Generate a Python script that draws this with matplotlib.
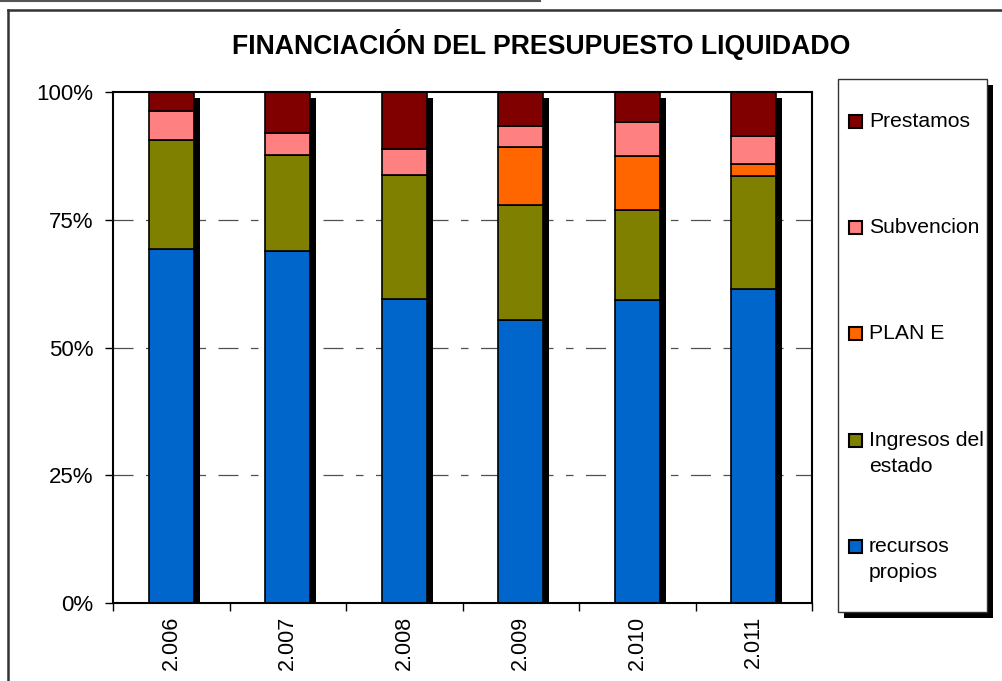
import numpy as np
import matplotlib.pyplot as plt
from matplotlib.patches import Rectangle
from matplotlib.lines import Line2D

plt.rcParams['font.family'] = ['Liberation Sans', 'DejaVu Sans']

# datos (porcentaje del presupuesto liquidado)
years = ['2.006', '2.007', '2.008', '2.009', '2.010', '2.011']
recursos = [69.2, 68.9, 59.5, 55.4, 59.2, 61.4]
ingresos = [21.5, 18.8, 24.3, 22.4, 17.7, 22.2]
plan_e = [0.0, 0.0, 0.0, 11.5, 10.6, 2.3]
subvencion = [5.6, 4.3, 5.0, 4.1, 6.6, 5.5]
prestamos = [3.7, 8.0, 11.2, 6.6, 5.9, 8.6]

series = [recursos, ingresos, plan_e, subvencion, prestamos]
labels = ['recursos\npropios', 'Ingresos del\nestado', 'PLAN E', 'Subvencion', 'Prestamos']
colors = ['#0066CC', '#808000', '#FF6600', '#FF8080', '#800000']

W, H = 1002, 681
fig = plt.figure(figsize=(W / 100, H / 100), dpi=100)


def fx(px):
    return px / W


def fy(py):
    return 1 - py / H


ax = fig.add_axes([fx(113), fy(603), fx(812) - fx(113), fy(92) - fy(603)])

x = np.arange(len(years)) + 0.5
width = 0.39

# sombras de las barras
ax.bar(x + 0.05, 100, width, bottom=-1.1, color='black', zorder=1)

# barras apiladas
bottom = np.zeros(len(years))
for vals, col in zip(series, colors):
    ax.bar(x, vals, width, bottom=bottom, color=col, edgecolor='black',
           linewidth=1.2, zorder=2)
    bottom = bottom + np.array(vals)

ax.set_xlim(0, len(years))
ax.set_ylim(0, 100)

# lineas de division
for yv in [25, 50, 75]:
    ax.axhline(yv, color='#505050', linewidth=0.9, linestyle=(0, (16, 10, 6, 10)), zorder=0.5)

ax.set_yticks([0, 25, 50, 75, 100])
ax.set_yticklabels(['0%', '25%', '50%', '75%', '100%'], fontsize=16)
ax.tick_params(axis='y', direction='out', length=6, width=1, pad=8)

ax.set_xticks(np.arange(len(years) + 1))
ax.set_xticklabels([])
ax.tick_params(axis='x', which='major', direction='out', length=6, width=1)
ax.set_xticks(x, minor=True)
ax.set_xticklabels(years, minor=True, rotation=90, fontsize=15.5)
ax.tick_params(axis='x', which='minor', length=0, pad=9)

for sp in ax.spines.values():
    sp.set_linewidth(1.5)
    sp.set_color('black')

# titulo
fig.text(fx(541), fy(44), 'FINANCIACIÓN DEL PRESUPUESTO LIQUIDADO',
         fontsize=19.2, fontweight='bold', ha='center', va='center')

# marco exterior
fig.add_artist(Line2D([fx(8), fx(8)], [fy(10), 0], color='#333333', linewidth=1.8))
fig.add_artist(Line2D([fx(8), 1], [fy(10), fy(10)], color='#333333', linewidth=1.8))
fig.add_artist(Line2D([0, fx(540)], [fy(1), fy(1)], color='#555555', linewidth=1.5))

# leyenda
lx0, lx1, ly0, ly1 = 838, 987, 79, 612
fig.add_artist(Rectangle((fx(lx0 + 6), fy(ly1 + 6)), fx(lx1 - lx0), fy(ly0) - fy(ly1),
                         facecolor='black', edgecolor='none'))
fig.add_artist(Rectangle((fx(lx0), fy(ly1)), fx(lx1 - lx0), fy(ly0) - fy(ly1),
                         facecolor='white', edgecolor='#333333', linewidth=1.0))
entry_y = [546, 440, 333, 227, 121]
for lab, col, ey in zip(labels, colors, entry_y):
    fig.add_artist(Rectangle((fx(849), fy(ey + 7)), fx(13), fy(ey - 6) - fy(ey + 7),
                             facecolor=col, edgecolor='black', linewidth=1.5))
    fig.text(fx(869), fy(ey - 9), lab, fontsize=15.2, ha='left', va='top',
             linespacing=1.45)

fig.savefig('out.png', dpi=100)
